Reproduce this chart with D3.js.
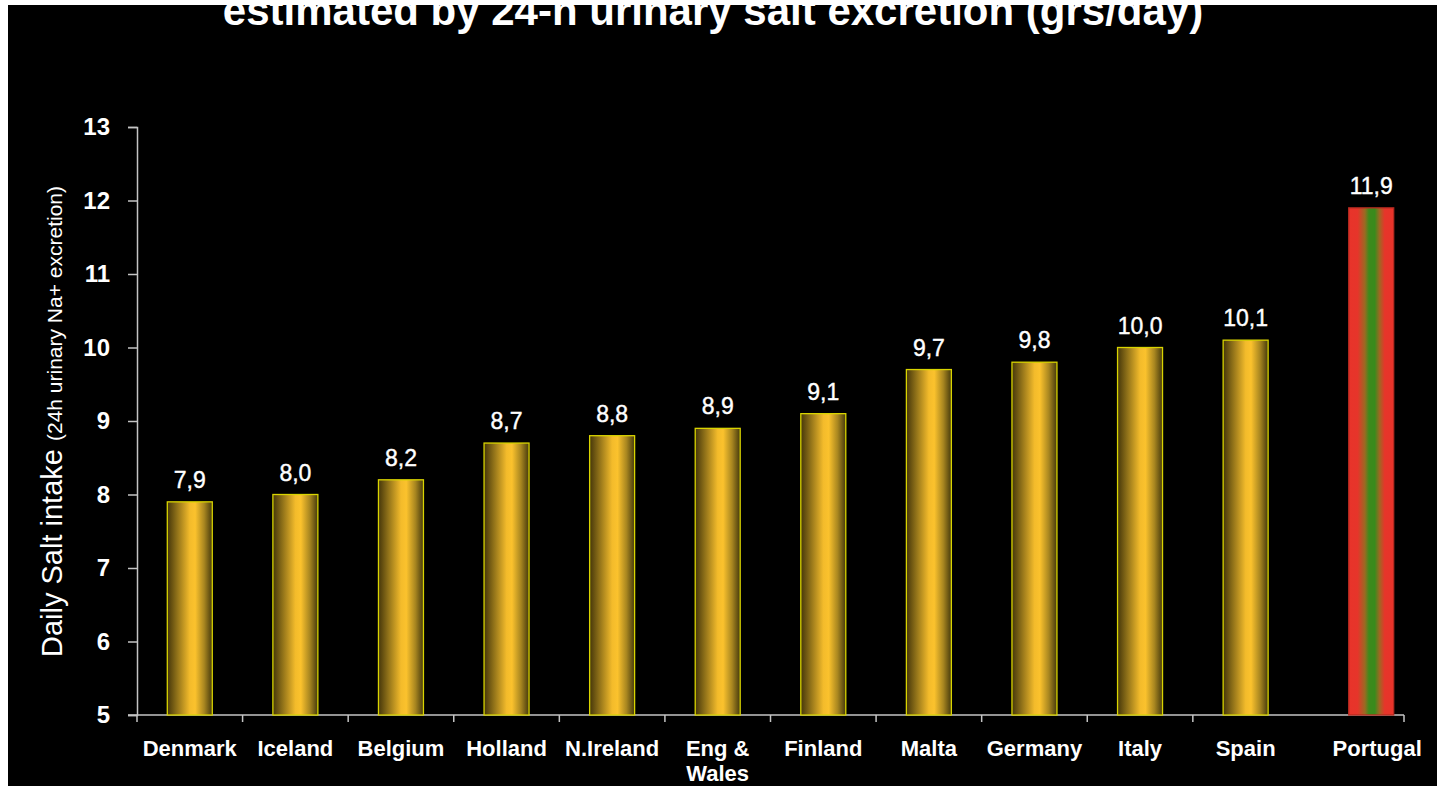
<!DOCTYPE html>
<html>
<head>
<meta charset="utf-8">
<script src="https://cdn.jsdelivr.net/npm/d3@7/dist/d3.min.js"></script>
<style>
  html, body { margin: 0; padding: 0; background: #fff; }
  svg { display: block; }
</style>
</head>
<body>
<svg id="chart" width="1441" height="786"></svg>
<script>
// Daily salt intake by country (24h urinary Na+ excretion), g/day
const countries = ["Denmark", "Iceland", "Belgium", "Holland", "N.Ireland", "Eng & Wales",
                   "Finland", "Malta", "Germany", "Italy", "Spain", "Portugal"];
const saltIntake = [7.9, 8.0, 8.2, 8.7, 8.8, 8.9, 9.1, 9.7, 9.8, 10.0, 10.1, 11.9];
const yTicks = [5, 6, 7, 8, 9, 10, 11, 12, 13];
const highlighted = "Portugal";
const titleText = "estimated by 24-h urinary salt excretion (grs/day)";
const yLabelMain = "Daily Salt intake";
const yLabelSub = "(24h urinary Na+ excretion)";

const W = 1441, H = 786;
const plot = { left: 137, right: 1404, top: 127, bottom: 715 };
const highlightShift = 20;   // the highlighted country sits a little apart from the rest

const svg = d3.select("#chart");
const FONT = "'Liberation Sans', Arial, Helvetica, sans-serif";

// frame: thin white margin around a black slide
svg.append("rect").attr("width", W).attr("height", H).attr("fill", "#fff");
svg.append("rect").attr("x", 8).attr("y", 5).attr("width", 1429).attr("height", H - 5).attr("fill", "#000");

const defs = svg.append("defs");
const gold = defs.append("linearGradient").attr("id", "goldBar")
  .attr("x1", "0%").attr("x2", "100%").attr("y1", "0%").attr("y2", "0%");
[[0, "#45360a"], [0.2, "#8a6d18"], [0.5, "#f3bb2b"], [0.62, "#fbc22d"], [0.82, "#a88620"], [1, "#45390c"]]
  .forEach(([o, c]) => gold.append("stop").attr("offset", o).attr("stop-color", c));
const flag = defs.append("linearGradient").attr("id", "flagBar")
  .attr("x1", "0%").attr("x2", "100%").attr("y1", "0%").attr("y2", "0%");
[[0, "#e8332a"], [0.2, "#e6352a"], [0.36, "#9a6a22"], [0.45, "#3d8a1c"], [0.58, "#3a8a1c"], [0.68, "#9a6a22"], [0.8, "#e6352a"], [1, "#e8332a"]]
  .forEach(([o, c]) => flag.append("stop").attr("offset", o).attr("stop-color", c));

const clip = defs.append("clipPath").attr("id", "slideClip");
clip.append("rect").attr("x", 8).attr("y", 5).attr("width", 1429).attr("height", H - 5);

// title (its upper part runs off the top of the slide)
svg.append("g").attr("clip-path", "url(#slideClip)")
  .append("text")
  .attr("x", 713).attr("y", 25)
  .attr("text-anchor", "middle")
  .attr("fill", "#fff")
  .attr("font-family", FONT).attr("font-weight", "bold").attr("font-size", 42)
  .text(titleText);

// scales
const x = d3.scaleBand().domain(countries).range([plot.left, plot.right])
  .paddingInner(0.574).paddingOuter(0.287);
const y = d3.scaleLinear().domain([5, 13]).range([plot.bottom, plot.top]);
const shift = d => d === highlighted ? highlightShift : 0;
const cx = d => x(d) + x.bandwidth() / 2 + shift(d);

const commaFmt = d3.formatLocale({ decimal: ",", thousands: ".", grouping: [3], currency: ["", "€"] }).format(".1f");

// y axis
const yAxis = svg.append("g").attr("transform", `translate(${plot.left},0)`)
  .call(d3.axisLeft(y).tickValues(yTicks).tickSize(9).tickPadding(18).tickFormat(d3.format("d")));
yAxis.select(".domain").attr("stroke", "#c4c4c4").attr("stroke-width", 1.5);
yAxis.selectAll(".tick line").attr("stroke", "#c4c4c4").attr("stroke-width", 1.5);
yAxis.selectAll(".tick text").attr("fill", "#fff").attr("font-family", FONT)
  .attr("font-weight", "bold").attr("font-size", 24);

// x axis line with ticks at the group boundaries
const xAxis = svg.append("g");
xAxis.append("line")
  .attr("x1", plot.left - 9).attr("x2", plot.right)
  .attr("y1", plot.bottom).attr("y2", plot.bottom)
  .attr("stroke", "#c4c4c4").attr("stroke-width", 1.5);
const boundaries = countries.map(d => x(d) - x.step() * x.paddingInner() / 2)
  .filter((b, i) => countries[i] !== highlighted)
  .concat([plot.right]);
xAxis.selectAll("line.tick").data(boundaries).join("line").attr("class", "tick")
  .attr("x1", d => d).attr("x2", d => d)
  .attr("y1", plot.bottom).attr("y2", plot.bottom + 7)
  .attr("stroke", "#c4c4c4").attr("stroke-width", 1.5);

// category labels (may wrap onto two lines)
const labelWrap = { "Eng & Wales": ["Eng &", "Wales"] };
const labelX = d => cx(d) + (d === highlighted ? 6 : 0);
const cat = svg.append("g").selectAll("text").data(countries).join("text")
  .attr("x", labelX)
  .attr("y", 756)
  .attr("text-anchor", "middle")
  .attr("fill", "#fff")
  .attr("font-family", FONT).attr("font-weight", "bold").attr("font-size", 22);
cat.each(function (d) {
  const lines = labelWrap[d] || [d];
  d3.select(this).selectAll("tspan").data(lines).join("tspan")
    .attr("x", labelX(d))
    .attr("dy", (l, i) => i === 0 ? 0 : 25)
    .text(l => l);
});

// bars
const data = countries.map((c, i) => ({ c, v: saltIntake[i] }));
svg.append("g").selectAll("rect").data(data).join("rect")
  .attr("x", d => x(d.c) + shift(d.c))
  .attr("width", x.bandwidth())
  .attr("y", d => y(d.v))
  .attr("height", d => y(5) - y(d.v))
  .attr("fill", d => d.c === highlighted ? "url(#flagBar)" : "url(#goldBar)")
  .attr("stroke", d => d.c === highlighted ? "#b52a20" : "#d9d400")
  .attr("stroke-width", 1.3);

// value labels
svg.append("g").selectAll("text").data(data).join("text")
  .attr("x", d => cx(d.c))
  .attr("y", d => y(d.v) - 14)
  .attr("text-anchor", "middle")
  .attr("fill", "#fff")
  .attr("font-family", FONT).attr("font-size", 23)
  .attr("stroke", "#fff").attr("stroke-width", 0.4)
  .text(d => commaFmt(d.v));

// y axis title
const yt = svg.append("text")
  .attr("transform", `translate(62,${(183 + 660) / 2}) rotate(-90)`)
  .attr("text-anchor", "middle")
  .attr("fill", "#fff")
  .attr("font-family", FONT);
yt.append("tspan").attr("font-size", 29).text(yLabelMain + " ");
yt.append("tspan").attr("font-size", 21).text(yLabelSub);
</script>
</body>
</html>
